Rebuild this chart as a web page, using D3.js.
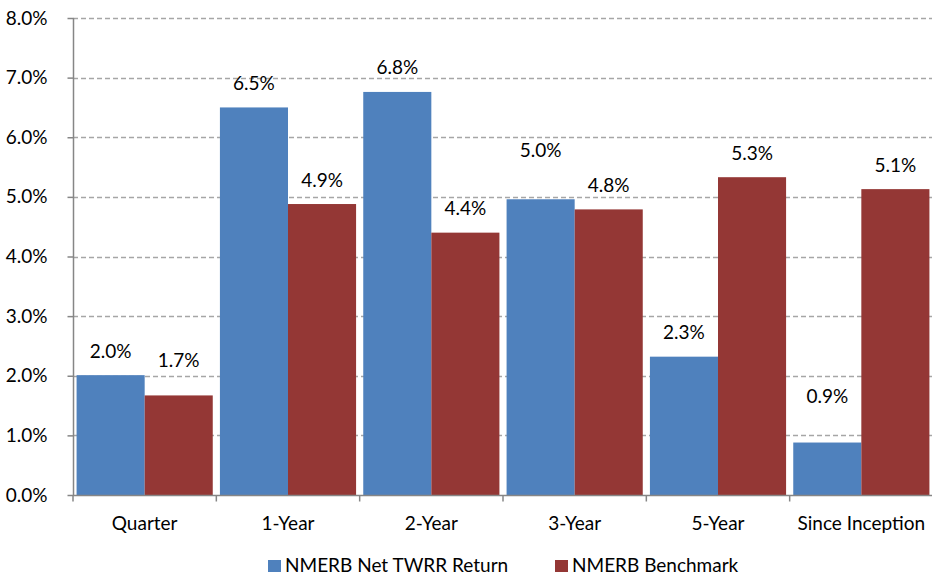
<!DOCTYPE html>
<html lang="en">
<head>
  <meta charset="UTF-8">
  <title>NMERB Returns</title>
  <script src="https://d3js.org/d3.v7.min.js"></script>
  <style>
    body { margin: 0; background: #fff; font-family: Lato, "Open Sans", sans-serif; }
    svg { display: block; }
  </style>
</head>
<body>
  <svg id="chart"></svg>
  <script>
    // data
    const categories = ["Quarter", "1-Year", "2-Year", "3-Year", "5-Year", "Since Inception"];
    const seriesNames = ["NMERB Net TWRR Return", "NMERB Benchmark"];
    const netReturn = [2.01, 6.50, 6.76, 4.96, 2.32, 0.88];
    const benchmark = [1.67, 4.88, 4.40, 4.79, 5.33, 5.13];
    const yTicks = [0, 1, 2, 3, 4, 5, 6, 7, 8];
    const colors = ["#4f81bd", "#943735"];
    // a few labels were nudged up in the original to dodge their neighbours (px)
    const labelNudge = [[0, 0, 0, 25, 0, 22], [11, 0, 0, 0, 0, 0]];

    const W = 932, H = 578;
    const margin = { top: 18, right: 0, bottom: 83, left: 73 };
    const fontSize = 19;

    const svg = d3.select("#chart").attr("width", W).attr("height", H);

    const x = d3.scaleBand()
      .domain(categories)
      .range([margin.left, W - margin.right + 1])
      .paddingInner(0.05)
      .paddingOuter(0.025);

    const x1 = d3.scaleBand()
      .domain(seriesNames)
      .range([0, x.bandwidth()]);

    const y = d3.scaleLinear()
      .domain([0, 8])
      .range([H - margin.bottom, margin.top]);

    // gridlines
    svg.append("g")
      .selectAll("line")
      .data(yTicks.slice(1))
      .enter().append("line")
      .attr("x1", margin.left)
      .attr("x2", W)
      .attr("y1", d => Math.round(y(d)) + 0.5)
      .attr("y2", d => Math.round(y(d)) + 0.5)
      .attr("stroke", "#a6a6a6")
      .attr("stroke-width", 1.3)
      .attr("stroke-dasharray", "5,3");

    // bars
    const rows = categories.map((c, i) => ({ cat: c, i: i, vals: [netReturn[i], benchmark[i]] }));

    const groups = svg.append("g")
      .selectAll("g")
      .data(rows)
      .enter().append("g")
      .attr("transform", d => `translate(${x(d.cat)},0)`);

    groups.selectAll("rect")
      .data(d => d.vals.map((v, j) => ({ key: seriesNames[j], v: v, j: j })))
      .enter().append("rect")
      .attr("x", d => x1(d.key))
      .attr("width", x1.bandwidth())
      .attr("y", d => y(d.v))
      .attr("height", d => y(0) - y(d.v))
      .attr("fill", d => colors[d.j]);

    // value labels
    groups.selectAll("text")
      .data(d => d.vals.map((v, j) => ({ key: seriesNames[j], v: v, nudge: labelNudge[j][d.i] })))
      .enter().append("text")
      .attr("x", d => x1(d.key) + x1.bandwidth() / 2)
      .attr("y", d => y(d.v) - 17.5 - d.nudge)
      .attr("text-anchor", "middle")
      .attr("font-size", fontSize)
      .attr("fill", "#000")
      .text(d => d.v.toFixed(1) + "%");

    // y axis
    const yAxis = svg.append("g")
      .attr("transform", `translate(${margin.left + 0.5},0)`)
      .call(d3.axisLeft(y).tickValues(yTicks).tickSize(6).tickPadding(20)
        .tickFormat(d => d.toFixed(1) + "%"));
    yAxis.select(".domain").attr("stroke", "#868686").attr("stroke-width", 1.5)
      .attr("d", `M0,${y(8)}V${y(0)}`);
    yAxis.selectAll(".tick line").attr("stroke", "#868686").attr("stroke-width", 1.5);
    yAxis.selectAll(".tick text").attr("font-size", fontSize).attr("fill", "#000")
      .attr("font-family", "Lato, sans-serif");

    // x axis
    const xAxis = svg.append("g")
      .attr("transform", `translate(0,${Math.round(y(0)) + 0.5})`);
    xAxis.append("line")
      .attr("x1", margin.left).attr("x2", W)
      .attr("stroke", "#868686").attr("stroke-width", 1.5);
    const bounds = categories.map(c => x(c) - x.step() * x.paddingInner() / 2);
    xAxis.selectAll(".xt")
      .data(bounds)
      .enter().append("line")
      .attr("x1", d => d).attr("x2", d => d)
      .attr("y1", 0).attr("y2", 6)
      .attr("stroke", "#868686").attr("stroke-width", 1.5);
    xAxis.selectAll("text")
      .data(categories)
      .enter().append("text")
      .attr("x", d => x(d) + x.bandwidth() / 2)
      .attr("y", 34)
      .attr("text-anchor", "middle")
      .attr("font-size", fontSize)
      .attr("fill", "#000")
      .text(d => d);

    // legend
    const legend = svg.append("g").attr("transform", "translate(268,560)");
    const legendX = [0, 287];
    seriesNames.forEach((name, i) => {
      const g = legend.append("g").attr("transform", `translate(${legendX[i]},0)`);
      g.append("rect").attr("width", 13).attr("height", 12).attr("fill", colors[i]);
      g.append("text").attr("x", 17).attr("y", 12)
        .attr("font-size", fontSize).attr("fill", "#000").text(name);
    });
  </script>
</body>
</html>
